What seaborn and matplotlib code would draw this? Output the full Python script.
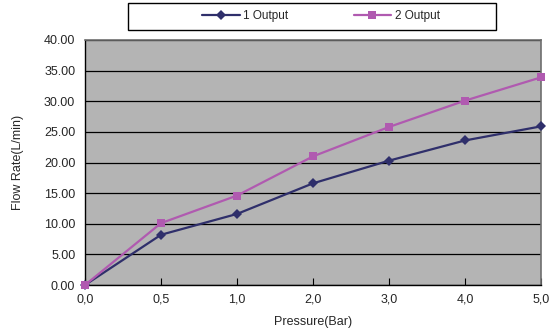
import pandas as pd
import matplotlib.pyplot as plt
import seaborn as sns
from matplotlib.patches import Rectangle

pressure = ["0,0", "0,5", "1,0", "2,0", "3,0", "4,0", "5,0"]
output_1 = [0.0, 8.2, 11.6, 16.6, 20.3, 23.6, 25.9]
output_2 = [0.0, 10.1, 14.6, 21.0, 25.8, 30.1, 33.9]
series_names = ["1 Output", "2 Output"]
y_ticks = [0, 5, 10, 15, 20, 25, 30, 35, 40]

df = pd.DataFrame({
    "Pressure": pressure * 2,
    "Flow": output_1 + output_2,
    "Series": [series_names[0]] * len(pressure) + [series_names[1]] * len(pressure),
})

sns.set_style("white")
plt.rcParams['font.family'] = ['Liberation Sans', 'DejaVu Sans']

fig = plt.figure(figsize=(5.53, 3.33), dpi=100)
ax = fig.add_axes([85 / 553, 48 / 333, 456 / 553, 245 / 333])
ax.set_facecolor("#b4b4b4")

palette = {"1 Output": "#2f2f6b", "2 Output": "#b05ab0"}
markers = {"1 Output": "D", "2 Output": "s"}
sns.lineplot(data=df, x="Pressure", y="Flow", hue="Series", style="Series",
             palette=palette, markers=markers, dashes=False, sort=False,
             linewidth=1.6, markersize=6, markeredgewidth=0, ax=ax)
# diamond a bit smaller than square
for line in ax.lines:
    if line.get_marker() == "D":
        line.set_markersize(5)

ax.set_ylim(0, 40)
ax.set_xlim(0, len(pressure) - 1)
ax.set_yticks(y_ticks)
ax.set_yticklabels([f"{v:.2f}" for v in y_ticks])
ax.yaxis.grid(True, color="black", linewidth=0.9)
ax.set_axisbelow(True)
for line in ax.lines:
    line.set_clip_on(False)
    line.set_zorder(3)

ax.tick_params(axis="x", direction="in", length=5, width=0.8, color="black",
               labelsize=9, pad=6, bottom=True)
ax.tick_params(axis="y", length=0, labelsize=9, pad=7)
for side in ["top", "right"]:
    ax.spines[side].set_color("#6e6e6e")
    ax.spines[side].set_linewidth(1.2)
for side in ["left", "bottom"]:
    ax.spines[side].set_color("black")
    ax.spines[side].set_linewidth(1.0)

ax.set_xlabel("Pressure(Bar)", fontsize=9, labelpad=8)
ax.set_ylabel("Flow Rate(L/min)", fontsize=9, labelpad=14)

handles, labels = ax.get_legend_handles_labels()
ax.get_legend().remove()
fig.patches.append(Rectangle((128 / 553, 1 - 30 / 333), 368 / 553, 27 / 333,
                             transform=fig.transFigure, fill=False,
                             edgecolor="black", linewidth=1.0))
leg = fig.legend(handles, labels, ncol=2, loc="center",
                 bbox_to_anchor=(321 / 553, 1 - 16.5 / 333),
                 fontsize=8.5, frameon=False, handlelength=3.2,
                 handletextpad=0.3, columnspacing=5.5, borderaxespad=0)

fig.savefig("out.png", dpi=100)
